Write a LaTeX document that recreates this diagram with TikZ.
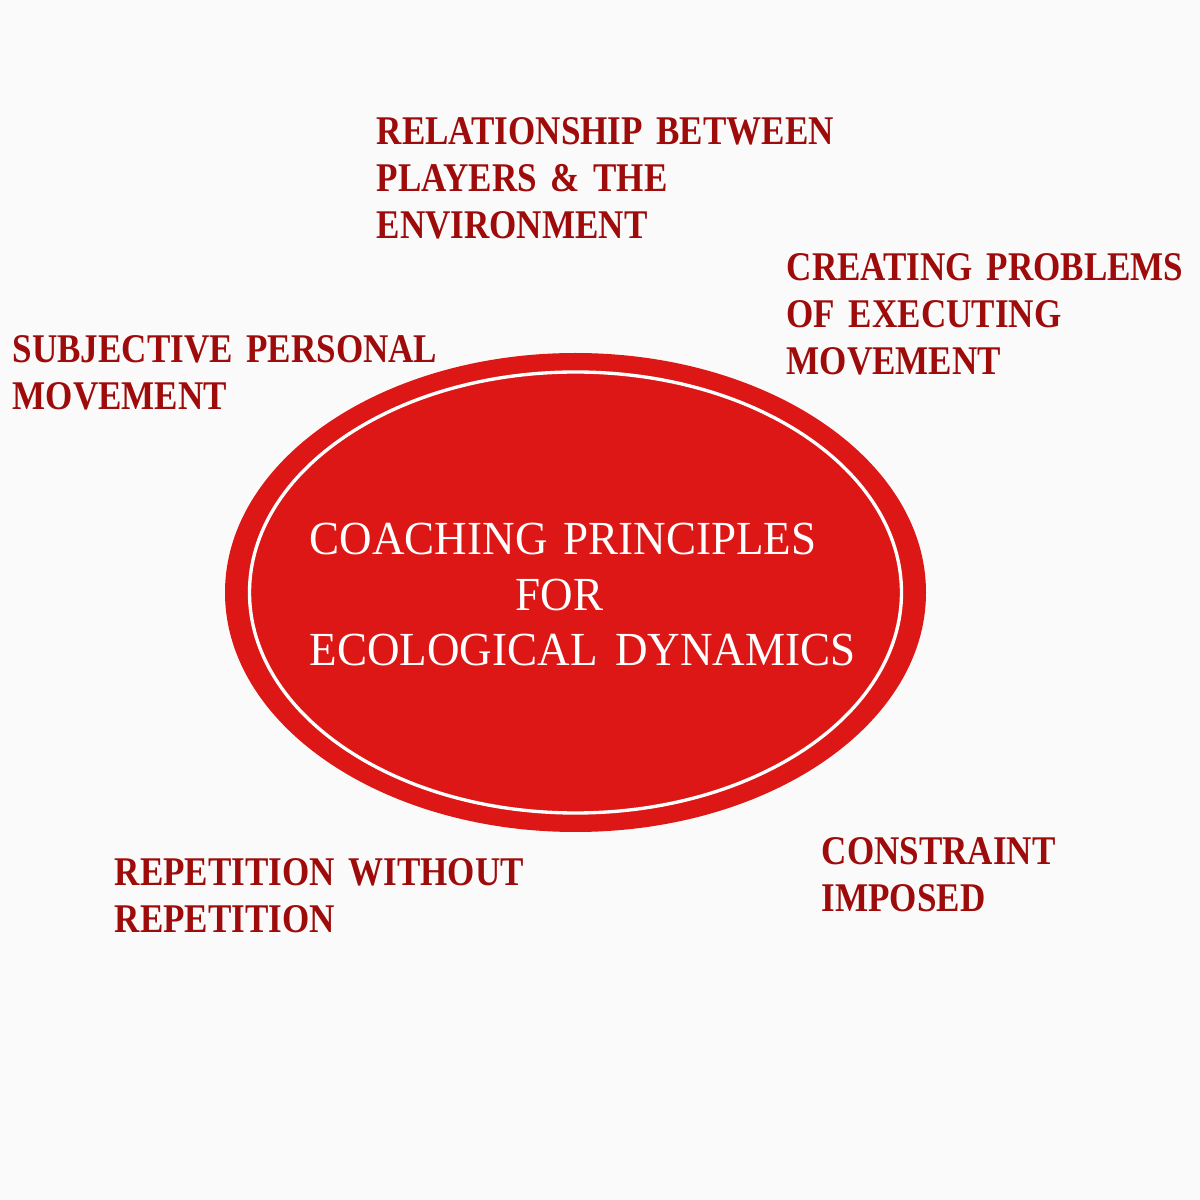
\documentclass[tikz,border=0pt]{standalone}
\usepackage{fontspec}
\usepackage{tikz}
\usetikzlibrary{shapes.geometric}

\newfontfamily\labelfont{Liberation Serif}[FakeStretch=0.86]
\newfontfamily\titlefont{Liberation Serif}[FakeStretch=0.95]

\definecolor{paper}{HTML}{FAFAFA}
\definecolor{discred}{HTML}{DD1616}
\definecolor{labelred}{HTML}{9E0B0B}

\begin{document}
\begin{tikzpicture}[
    principle/.style = {anchor = base west,
                        inner sep = 0pt,
                        text width = 6cm,
                        align = left,
                        text = labelred,
                        font = \labelfont\bfseries\fontsize{11.6}{13.37}\selectfont}
    ]

    \fill[paper] (0,0) rectangle (12,12);
    \useasboundingbox (0,0) rectangle (12,12);

    \node[ellipse,
          fill = discred,
          inner sep = 0pt,
          minimum width = 7.01cm,
          minimum height = 4.79cm
          ] (disc) at (5.755,6.075) {};

    \node[ellipse,
          draw = white,
          line width = 0.95pt,
          inner sep = 0pt,
          minimum width = 6.52cm,
          minimum height = 4.41cm
          ] (ring) at (disc.center) {};

    \node[anchor = base west,
          inner sep = 0pt,
          text width = 7cm,
          align = left,
          text = white,
          font = \titlefont\fontsize{13.5}{15.65}\selectfont
          ] (title) at (3.09,6.45)
          {COACHING PRINCIPLES\\ \hspace*{58.6pt}FOR\\ ECOLOGICAL\hspace{5pt}DYNAMICS};

    % labels round the disc
    \node[principle] (relation) at (3.76,10.55)
          {RELATIONSHIP BETWEEN\\ PLAYERS \& THE\\ ENVIRONMENT};
    \node[principle] (problems) at (7.86,9.19)
          {CREATING PROBLEMS\\ OF EXECUTING\\ MOVEMENT};
    \node[principle] (subjective) at (0.12,8.37)
          {SUBJECTIVE PERSONAL\\ MOVEMENT};
    \node[principle] (repetition) at (1.14,3.14)
          {REPETITION WITHOUT\\ REPETITION};
    \node[principle] (constraint) at (8.21,3.35)
          {CONSTRAINT\\ IMPOSED};

\end{tikzpicture}
\end{document}
